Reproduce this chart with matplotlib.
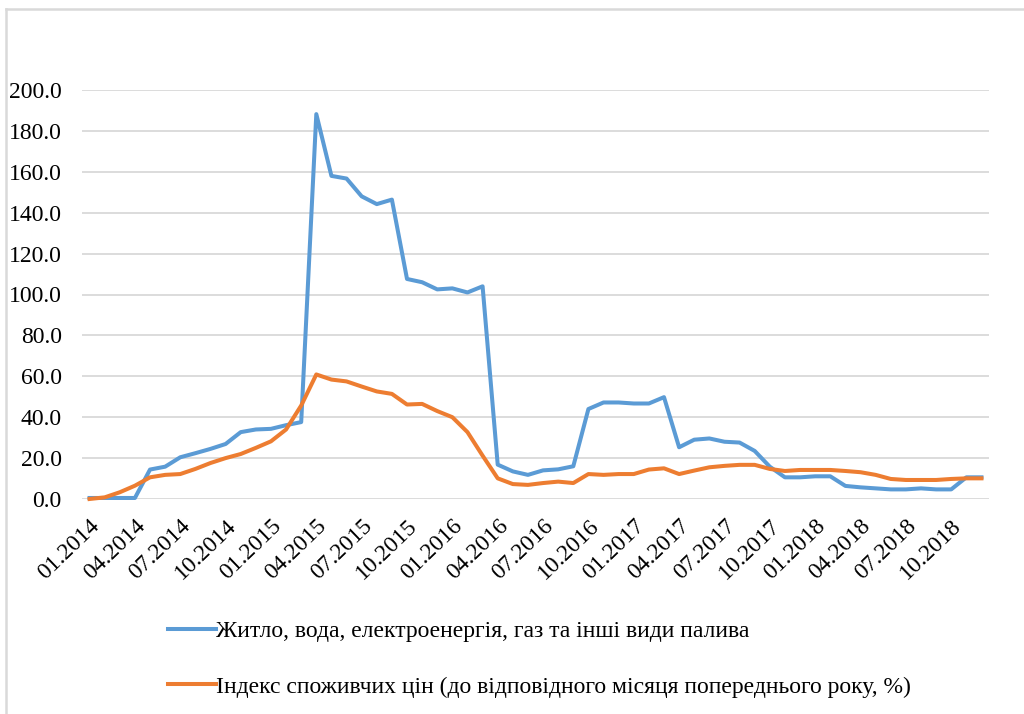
import matplotlib
matplotlib.use("Agg")
import matplotlib.pyplot as plt
from matplotlib.lines import Line2D

# Monthly series, 01.2014 .. 12.2018 (year-over-year change, %)
housing = [0.5, 0.5, 0.5, 0.5, 14.4, 15.8, 20.4, 22.4, 24.5, 26.9, 32.7, 34.0,
           34.3, 36.1, 37.6, 188.2, 158.0, 156.7, 148.0, 144.2, 146.4, 107.6, 106.0, 102.5,
           103.0, 101.0, 104.0, 16.8, 13.5, 11.8, 14.0, 14.5, 16.0, 44.0, 47.2, 47.2,
           46.7, 46.7, 49.8, 25.3, 29.0, 29.6, 28.0, 27.6, 23.5, 15.8, 10.6, 10.6,
           11.1, 11.1, 6.4, 5.7, 5.2, 4.7, 4.7, 5.2, 4.7, 4.7, 10.6, 10.6]
cpi = [0.0, 0.8, 3.3, 6.5, 10.6, 11.8, 12.2, 14.7, 17.6, 20.0, 22.0, 25.0,
       28.2, 34.0, 45.7, 60.9, 58.4, 57.5, 55.0, 52.6, 51.4, 46.2, 46.5, 43.0,
       40.0, 32.7, 21.2, 10.1, 7.3, 6.9, 7.8, 8.5, 7.8, 12.2, 11.8, 12.2,
       12.2, 14.4, 15.0, 12.2, 13.9, 15.5, 16.2, 16.7, 16.7, 14.7, 13.7, 14.2,
       14.2, 14.2, 13.7, 13.1, 11.8, 9.8, 9.3, 9.3, 9.3, 9.8, 10.1, 10.1]

tick_labels = ["01.2014", "04.2014", "07.2014", "10.2014",
               "01.2015", "04.2015", "07.2015", "10.2015",
               "01.2016", "04.2016", "07.2016", "10.2016",
               "01.2017", "04.2017", "07.2017", "10.2017",
               "01.2018", "04.2018", "07.2018", "10.2018"]
y_ticks = [0, 20, 40, 60, 80, 100, 120, 140, 160, 180, 200]

series_names = ["Житло, вода, електроенергія, газ та інші види палива",
                "Індекс споживчих цін (до відповідного місяця попереднього року, %)"]

BLUE = "#5B9BD5"
ORANGE = "#ED7D31"
GRID = "#D9D9D9"

plt.rcParams["font.family"] = ["Liberation Serif", "DejaVu Serif"]

W, H = 1024, 714
fig = plt.figure(figsize=(W / 100, H / 100), dpi=100)
ax = fig.add_axes([82 / W, 1 - 499 / H, 907 / W, 409 / H])

x = list(range(len(housing)))
lw = 2.9
ax.plot(x, housing, color=BLUE, lw=lw, solid_joinstyle="round", clip_on=False, zorder=3)
ax.plot(x, cpi, color=ORANGE, lw=lw, solid_joinstyle="round", clip_on=False, zorder=4)

ax.set_xlim(-0.5, len(housing) - 0.5)
ax.set_ylim(0, 200)
ax.set_yticks(y_ticks)
ax.set_yticklabels([f"{v:.1f}" for v in y_ticks], fontsize=17)
ax.set_xticks(range(0, len(housing), 3))
ax.set_xticklabels(tick_labels, fontsize=17, rotation=44, ha="right",
                   rotation_mode="anchor")
ax.tick_params(axis="both", length=0)
ax.tick_params(axis="y", pad=14.5)
ax.tick_params(axis="x", pad=12)
ax.grid(axis="y", color=GRID, lw=1.3)
ax.set_axisbelow(True)
for s in ax.spines.values():
    s.set_visible(False)

handles = [Line2D([], [], color=BLUE, lw=lw), Line2D([], [], color=ORANGE, lw=lw)]
fig.legend(handles, series_names, loc="upper left",
           bbox_to_anchor=(159 / W, 1 - 611 / H), frameon=False, fontsize=17,
           handlelength=2.0, handletextpad=0.0, labelspacing=1.45, borderaxespad=0)

# chart frame (left and top edges)
fig.add_artist(Line2D([6 / W, 6 / W], [0, 1 - 9 / H], color=GRID, lw=1.8))
fig.add_artist(Line2D([6 / W, 1], [1 - 9 / H, 1 - 9 / H], color=GRID, lw=1.8))

fig.savefig("out.png", dpi=100)
